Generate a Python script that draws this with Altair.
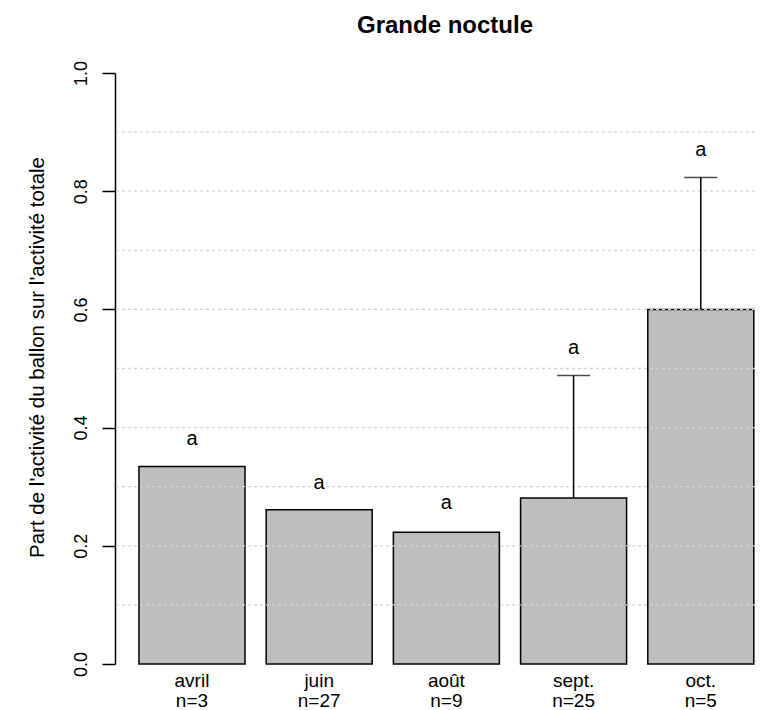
import altair as alt
import pandas as pd

# ---- data ----
months = ["avril", "juin", "août", "sept.", "oct."]
counts = [3, 27, 9, 25, 5]
proportions = [0.334, 0.261, 0.223, 0.281, 0.600]
upper_limits = [None, None, None, 0.488, 0.823]
letters = ["a", "a", "a", "a", "a"]
letter_y = [0.381, 0.307, 0.272, 0.535, 0.870]
y_ticks = [0.0, 0.2, 0.4, 0.6, 0.8, 1.0]
grid_values = [0.1, 0.2, 0.3, 0.4, 0.5, 0.6, 0.7, 0.8, 0.9]
title_text = "Grande noctule"
y_title = "Part de l'activité du ballon sur l'activité totale"

df = pd.DataFrame({
    "xlab": [f"{m}|n={n}" for m, n in zip(months, counts)],
    "prop": proportions,
    "upper": upper_limits,
    "letter": letters,
    "ly": letter_y,
})
grid_df = pd.DataFrame({"g": grid_values})
order = list(df["xlab"])

FONT = "Liberation Sans"

x_enc = alt.X(
    "xlab:N", sort=order,
    scale=alt.Scale(paddingInner=1 / 6, paddingOuter=0.099, align=0.952),
    axis=alt.Axis(title=None, domain=False, ticks=False, tickSize=0, labelAngle=0,
                  labelExpr="split(datum.label, '|')", labelFont=FONT, labelFontSize=19,
                  labelLineHeight=20, labelPadding=22, labelBaseline="alphabetic",
                  labelColor="black"),
)
y_scale = alt.Scale(domain=[0, 1], nice=False, zero=False)
y_axis = alt.Axis(
    title=y_title, values=y_ticks, format=".1f", grid=False,
    labelAngle=270, labelAlign="center", labelBaseline="alphabetic",
    labelPadding=16, labelFont=FONT, labelFontSize=18, labelColor="black",
    labelFlush=False, labelOverlap=False, labelBound=False,
    tickSize=13, tickColor="black", tickWidth=1.5,
    domainColor="black", domainWidth=1.5,
    titleFont=FONT, titleFontSize=20.5, titleFontWeight="normal", titleColor="black",
    titleAngle=270, titleAlign="center", titleBaseline="alphabetic",
    titleX=-72, titleY=284,
)

def Y(field):
    return alt.Y(field, scale=y_scale, axis=y_axis)

base = alt.Chart(df)

bars = base.mark_bar(fill="#bebebe", stroke="black", strokeWidth=1.5).encode(
    x=x_enc, y=Y("prop:Q")
)
grid = alt.Chart(grid_df).mark_rule(color="#d3d3d3", strokeDash=[3, 3], strokeWidth=1.3).encode(
    y=Y("g:Q")
)
err = base.transform_filter("isValid(datum.upper)").mark_rule(color="black", strokeWidth=1.5).encode(
    x=x_enc, y=Y("prop:Q"), y2="upper:Q"
)
cap = base.transform_filter("isValid(datum.upper)").mark_tick(color="black", thickness=1.5, size=33).encode(
    x=x_enc, y=Y("upper:Q")
)
txt = base.mark_text(font=FONT, fontSize=20, color="black", baseline="middle").encode(
    x=x_enc, y=Y("ly:Q"), text="letter:N"
)

chart = alt.layer(bars, grid, err, cap, txt).properties(
    width=640, height=591,
    padding={"left": 107, "top": 65, "right": 0, "bottom": 46},
    autosize=alt.AutoSizeParams(type="none"),
    title=alt.TitleParams(title_text, font=FONT, fontSize=24, fontWeight="bold",
                          color="black", anchor="middle", frame="group",
                          baseline="alphabetic", offset=0, dx=10, dy=-3),
    background="white",
).configure_view(stroke=None)

chart.save("out.html", embed_options={"renderer": "svg", "actions": False})
